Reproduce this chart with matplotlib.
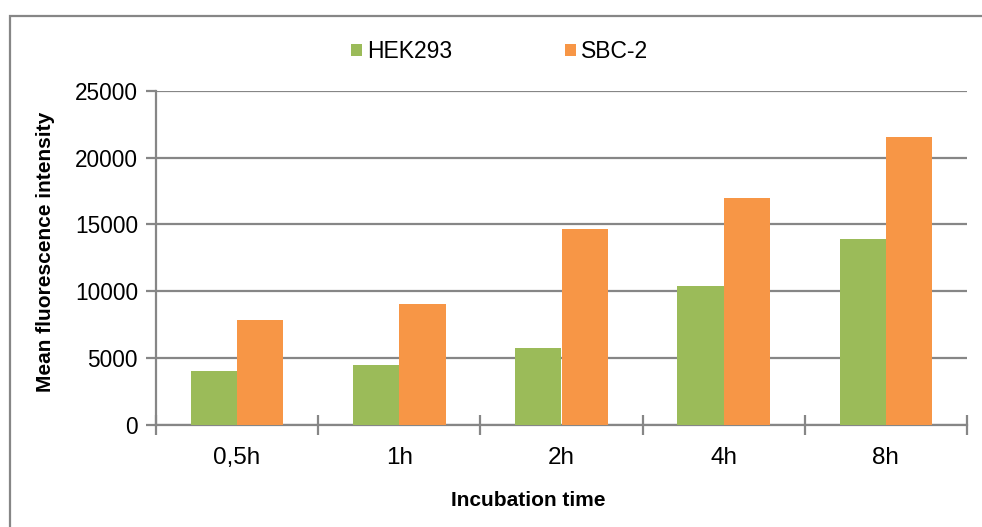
import matplotlib
matplotlib.use('Agg')
import matplotlib.pyplot as plt
import numpy as np
from matplotlib.patches import Rectangle

# data
times = ['0,5h', '1h', '2h', '4h', '8h']
hek293 = [4000, 4430, 5750, 10380, 13920]
sbc2 = [7800, 9030, 14650, 16950, 21550]

plt.rcParams['font.family'] = ['Liberation Sans', 'DejaVu Sans']

grey = '#868686'

fig = plt.figure(figsize=(9.82, 5.27), dpi=100)
ax = fig.add_axes([156/982, 1-424.5/527, (967-156)/982, (424.5-91)/527])

x = np.arange(len(times))
w = 0.285
ax.bar(x - w/2, hek293, width=w, color='#9BBB59', label='HEK293', zorder=3)
ax.bar(x + w/2, sbc2, width=w, color='#F79646', label='SBC-2', zorder=3)

ax.set_xlim(-0.5, len(times) - 0.5)
ax.set_ylim(0, 25000)
ax.set_yticks(np.arange(0, 25001, 5000))
ax.yaxis.grid(True, color=grey, linewidth=1.6, zorder=0)

for s in ['top', 'right']:
    ax.spines[s].set_visible(False)
for s in ['left', 'bottom']:
    ax.spines[s].set_color(grey)
    ax.spines[s].set_linewidth(1.6)

ax.set_xticks(x)
ax.set_xticklabels(times, fontsize=17.5)
ax.tick_params(axis='x', length=0, pad=16)
ax.set_xticks(np.arange(-0.5, len(times)), minor=True)
ax.tick_params(axis='x', which='minor', direction='inout', length=14, width=1.6, color=grey)
ax.tick_params(axis='y', direction='out', length=7, width=1.6, color=grey, labelsize=16.3, pad=6)

# axis titles are placed like in the original (not centred on the axes)
fig.text(528/982, 1-500/527, 'Incubation time', fontsize=15, fontweight='bold',
         ha='center', va='center')
fig.text(46/982, 1-252/527, 'Mean fluorescence intensity', fontsize=15, fontweight='bold',
         ha='center', va='center', rotation=90)

leg = fig.legend(loc='center', bbox_to_anchor=(499.5/982, 1-51.7/527), ncol=2, frameon=False,
                 fontsize=16.5, handlelength=0.48, handleheight=0.48, handletextpad=0.22,
                 columnspacing=4.93)

# outer chart border
fig.patches.append(Rectangle((10/982, -0.05), 1.0, 1-16/527+0.05, transform=fig.transFigure,
                             fill=False, edgecolor=grey, linewidth=1.6))

fig.savefig('out.png', dpi=100)
